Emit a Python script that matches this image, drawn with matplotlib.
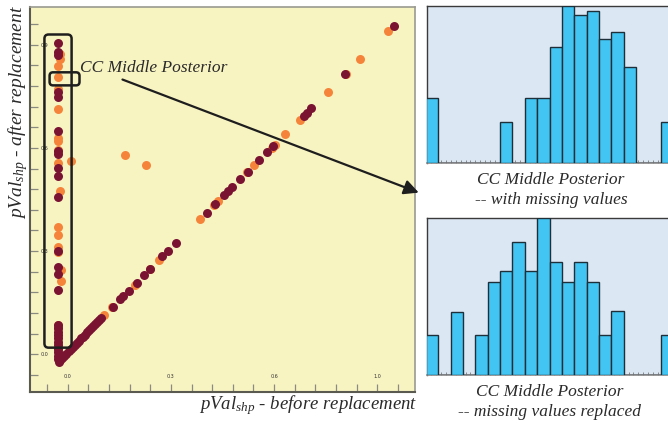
import matplotlib
matplotlib.use("Agg")
import matplotlib.pyplot as plt
from matplotlib.patches import FancyBboxPatch
from matplotlib.ticker import MultipleLocator, FixedLocator

plt.rcParams['mathtext.fontset'] = 'custom'
plt.rcParams['mathtext.it'] = 'Liberation Serif:italic'
plt.rcParams['mathtext.rm'] = 'Liberation Serif'

# ---------------- data ----------------
# orange series (pVal before, pVal after)
orange_x = [-0.024, -0.024, -0.029, -0.029, -0.029, -0.029, -0.029, -0.029, -0.029, -0.029,
            -0.022, -0.029, -0.029, -0.029, -0.029, -0.020, -0.020, -0.029, -0.029,
            0.010, 0.167, 0.227,
            0.105, 0.129, 0.195, 0.238, 0.265, 0.384, 0.426, 0.436, 0.522, 0.542,
            0.593, 0.603, 0.632, 0.674, 0.756, 0.809, 0.851, 0.931]
orange_y = [0.873, 0.858, 0.837, 0.805, 0.771, 0.714, 0.630, 0.620, 0.594, 0.557,
            0.476, 0.370, 0.348, 0.312, 0.298, 0.246, 0.212, 0.086, 0.077,
            0.562, 0.579, 0.549,
            0.115, 0.137, 0.202, 0.248, 0.273, 0.392, 0.434, 0.445, 0.530, 0.550,
            0.601, 0.610, 0.642, 0.681, 0.764, 0.816, 0.860, 0.941]

# maroon series (pVal before, pVal after)
maroon_x = [-0.029, -0.029, -0.029, -0.029, -0.029, -0.029, -0.029, -0.029, -0.029, -0.029,
            -0.029, -0.029, -0.029, -0.029, -0.029, -0.029, -0.029, -0.029, -0.029, -0.029,
            -0.029, -0.029, -0.029, -0.029, -0.029, -0.029, -0.027,
            -0.022, -0.016, -0.010, -0.004, 0.002, 0.008, 0.014, 0.020, 0.026, 0.032,
            0.038, 0.044, 0.050, 0.056, 0.062, 0.068, 0.074, 0.080, 0.086, 0.092, 0.097,
            0.130, 0.153, 0.160, 0.177, 0.201, 0.221, 0.238, 0.275, 0.290, 0.316,
            0.404, 0.428, 0.454, 0.466, 0.479, 0.501, 0.524, 0.557, 0.580, 0.598,
            0.686, 0.695, 0.708, 0.807, 0.948]
maroon_y = [0.905, 0.880, 0.870, 0.763, 0.749, 0.649, 0.591, 0.581, 0.543, 0.518,
            0.457, 0.300, 0.254, 0.232, 0.186, 0.086, 0.076, 0.066, 0.056, 0.046,
            0.036, 0.026, 0.016, 0.006, -0.004, -0.014, -0.022,
            -0.018, -0.011, -0.004, 0.002, 0.008, 0.014, 0.021, 0.027, 0.033, 0.039,
            0.046, 0.051, 0.057, 0.064, 0.070, 0.076, 0.082, 0.088, 0.094, 0.100, 0.104,
            0.138, 0.161, 0.168, 0.185, 0.208, 0.229, 0.247, 0.285, 0.300, 0.324,
            0.411, 0.436, 0.462, 0.474, 0.487, 0.509, 0.531, 0.564, 0.589, 0.606,
            0.693, 0.702, 0.717, 0.815, 0.956]

scatter_ticks = [0.0, 0.3, 0.6, 0.9]
scatter_xticklabels = ["0.0", "0.3", "0.6", "1.0"]
scatter_yticklabels = ["0.0", "0.3", "0.6", "0.9"]

# histogram bins (bin index) and heights
hist_bins = list(range(20))
hist_missing = [4.13, 0, 0, 0, 0, 0, 2.61, 0, 4.13, 4.13, 7.37, 10.0, 9.43, 9.70,
                7.88, 8.33, 6.10, 0, 0, 2.61]
hist_replaced = [2.54, 0, 4.03, 0, 2.54, 5.93, 6.61, 8.50, 6.61, 10.0, 7.18, 5.93,
                 7.18, 5.93, 2.54, 4.07, 0, 0, 0, 2.54]

# ---------------- figure ----------------
W, H = 668, 424
fig = plt.figure(figsize=(W / 100, H / 100), dpi=100)
fig.patch.set_facecolor("white")


def fx(px):
    return px / W


def fy(py):
    return 1 - py / H


ORANGE = "#F5843A"
MAROON = "#7A1232"
INK = "#1e1e1e"
serif = "Liberation Serif"

# scatter axes
ax = fig.add_axes([fx(30), fy(392), fx(415) - fx(30), fy(7) - fy(392)])
ax.set_facecolor("#F8F4C2")
ax.scatter(orange_x, orange_y, s=42, color=ORANGE, linewidths=0, zorder=3)
ax.scatter(maroon_x, maroon_y, s=42, color=MAROON, linewidths=0, zorder=4)
ax.set_xlim(-0.11, 1.01)
ax.set_ylim(-0.11, 1.01)

ax.xaxis.set_major_locator(FixedLocator(scatter_ticks))
ax.yaxis.set_major_locator(FixedLocator(scatter_ticks))
ax.set_xticklabels(scatter_xticklabels)
ax.set_yticklabels(scatter_yticklabels)
ax.xaxis.set_minor_locator(MultipleLocator(0.06))
ax.yaxis.set_minor_locator(MultipleLocator(0.06))
ax.tick_params(which="both", direction="in", length=6, width=0.9, color="#8a8a80")
ax.tick_params(axis="x", which="major", pad=-9, labelsize=3.5, labelcolor="#333")
ax.tick_params(axis="y", which="major", pad=-8, labelsize=3.5, labelcolor="#333")
for lbl in ax.get_xticklabels():
    lbl.set_va("bottom")
for lbl in ax.get_yticklabels():
    lbl.set_ha("left")
for side in ["left", "bottom"]:
    ax.spines[side].set_color("#5a5a50")
    ax.spines[side].set_linewidth(1.5)
for side in ["top", "right"]:
    ax.spines[side].set_color("#9a9a90")
    ax.spines[side].set_linewidth(1.2)

# highlight boxes
tall = FancyBboxPatch((-0.068, 0.019), 0.079, 0.911,
                      boxstyle="round,pad=0,rounding_size=0.012",
                      fill=False, ec=INK, lw=1.8, zorder=6)
ax.add_patch(tall)
small = FancyBboxPatch((-0.053, 0.782), 0.087, 0.038,
                       boxstyle="round,pad=0,rounding_size=0.01",
                       fill=False, ec=INK, lw=1.8, zorder=6)
ax.add_patch(small)

ax.text(0.034, 0.834, "CC Middle Posterior", family=serif, style="italic",
        fontsize=12.5, color="#2a2a2a", ha="left", va="center", zorder=7)
ax.annotate("", xy=(1.021, 0.470), xytext=(0.159, 0.799),
            xycoords="data", textcoords="data", annotation_clip=False,
            arrowprops=dict(arrowstyle="-|>", color=INK, lw=1.6,
                            mutation_scale=22, shrinkA=0, shrinkB=0),
            zorder=8)

# axis labels
fig.text(fx(417), fy(405), r"$pVal_{shp}$ - before replacement", family=serif,
         style="italic", fontsize=13.5, color="#2a2a2a", ha="right", va="center")
fig.text(fx(18), fy(112), r"$pVal_{shp}$ - after replacement", family=serif,
         style="italic", fontsize=14, color="#2a2a2a", ha="center", va="center",
         rotation=90)

# histograms
BAR = "#42C5F2"
hist_left_px, bin_px = 426.0, 12.35
ax_left, ax_right = 427, 690


def draw_hist(top_px, bottom_px, heights, line1, line2, cap_y1, cap_y2, cx):
    h = fig.add_axes([fx(ax_left), fy(bottom_px), fx(ax_right) - fx(ax_left),
                      fy(top_px) - fy(bottom_px)])
    h.set_facecolor("#DCE7F4")
    h.bar(hist_bins, heights, width=1.0, align="edge", color=BAR,
          edgecolor="#1f2f3a", linewidth=1.0, zorder=3)
    h.set_xlim((ax_left - hist_left_px) / bin_px, (ax_right - hist_left_px) / bin_px)
    h.set_ylim(0, 10.0)
    h.set_yticks([])
    h.xaxis.set_major_locator(MultipleLocator(0.4))
    h.tick_params(axis="x", direction="in", length=2.5, width=0.6, color="#777",
                  labelbottom=False, zorder=4)
    for side in ["left", "top"]:
        h.spines[side].set_color("#3a3a3a")
        h.spines[side].set_linewidth(1.0)
    h.spines["bottom"].set_color("#888")
    h.spines["bottom"].set_linewidth(1.2)
    h.spines["right"].set_visible(False)
    fig.text(fx(cx), fy(cap_y1), line1, family=serif, style="italic", fontsize=12.5,
             color="#2a2a2a", ha="center", va="center")
    fig.text(fx(cx), fy(cap_y2), line2, family=serif, style="italic", fontsize=12.5,
             color="#2a2a2a", ha="center", va="center")


draw_hist(6, 163, hist_missing, "CC Middle Posterior", "-- with missing values",
          180, 200, 551)
draw_hist(218, 375, hist_replaced, "CC Middle Posterior", "-- missing values replaced",
          392, 412, 550)

fig.savefig("out.png", dpi=100)
